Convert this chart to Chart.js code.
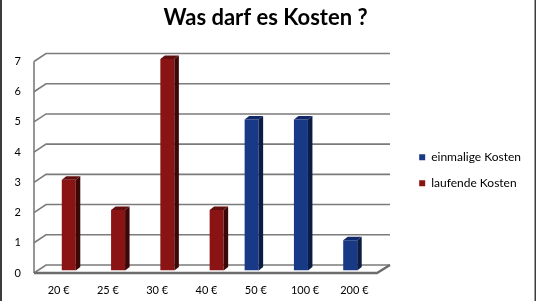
<!DOCTYPE html>
<html><head><meta charset="utf-8">
<script src="https://cdn.jsdelivr.net/npm/chart.js@4/dist/chart.umd.min.js"></script>
<style>html,body{margin:0;padding:0;background:#fff}canvas{display:block}</style>
</head><body>
<canvas id="c" width="536" height="301"></canvas>
<script>
const categories = ['20 €', '25 €', '30 €', '40 €', '50 €', '100 €', '200 €'];
const einmaligeKosten = [0, 0, 0, 0, 5, 5, 1];
const laufendeKosten = [3, 2, 7, 2, 0, 0, 0];
const seriesNames = ['einmalige Kosten', 'laufende Kosten'];
const yMin = 0, yMax = 7, yStep = 1;
const titleText = 'Was darf es Kosten ?';

const FONT = 'Lato, "Liberation Sans", sans-serif';
const LEGEND_FONT_SIZE = 12;
const blueFaces = {front: '#183a86', side: '#0c1d45', top: '#11296a'};
const redFaces = {front: '#8a1414', side: '#3c0707', top: '#620e0e'};

// oblique 3D look
const wall = {frontX: -3, backX: 9, frontY: 2.5, backY: -5.5, rightFrontX: -5, rightBackX: 8};
const barDepth = {dx: 4.5, dy: 3.5};
const TARGET_RIGHT = 382;
const PAD_RIGHT = 5;
const LEGEND_PAD = 14;

const frame3d = {
  id: 'frame3d',
  beforeDraw(chart) {
    const ctx = chart.ctx;
    ctx.save();
    ctx.fillStyle = '#3c3c3c';
    ctx.fillRect(0, 0, 2, chart.height);
    ctx.fillRect(chart.width - 1.5, 0, 1.5, chart.height);
    ctx.restore();
  },
  beforeDatasetsDraw(chart) {
    const {ctx, chartArea: a, scales: {y}} = chart;
    const fl = a.left + wall.frontX, bl = a.left + wall.backX;
    const fr = a.right + wall.rightFrontX, br = a.right + wall.rightBackX;
    ctx.save();
    ctx.strokeStyle = '#7b7b7b';
    ctx.lineWidth = 1.6;
    y.ticks.forEach(t => {
      const p = y.getPixelForValue(t.value);
      ctx.beginPath();
      ctx.moveTo(fl, p + wall.frontY);
      ctx.lineTo(bl, p + wall.backY);
      ctx.lineTo(br, p + wall.backY);
      ctx.stroke();
    });
    const pTop = y.getPixelForValue(yMax), p0 = y.getPixelForValue(yMin);
    ctx.beginPath();
    ctx.moveTo(fl, pTop + wall.frontY);
    ctx.lineTo(fl, p0 + wall.frontY);
    ctx.stroke();
    ctx.strokeStyle = '#6c6c6c';
    ctx.lineWidth = 2.4;
    ctx.beginPath();
    ctx.moveTo(fl, p0 + wall.frontY);
    ctx.lineTo(fr, p0 + wall.frontY);
    ctx.lineTo(br, p0 + wall.backY);
    ctx.stroke();
    ctx.restore();
  },
  afterDatasetsDraw(chart) {
    const ctx = chart.ctx;
    ctx.save();
    chart.data.datasets.forEach((ds, i) => {
      const meta = chart.getDatasetMeta(i);
      const c = ds.faces;
      meta.data.forEach(el => {
        const {x, y, base, width} = el.getProps(['x', 'y', 'base', 'width'], true);
        if (Math.abs(base - y) < 0.5) return;
        const l = x - width / 2, r = x + width / 2;
        const dx = barDepth.dx, dy = barDepth.dy;
        ctx.fillStyle = c.side;
        ctx.beginPath();
        ctx.moveTo(r, y); ctx.lineTo(r + dx, y - dy); ctx.lineTo(r + dx, base - dy); ctx.lineTo(r, base);
        ctx.closePath(); ctx.fill();
        ctx.fillStyle = c.top;
        ctx.beginPath();
        ctx.moveTo(l, y); ctx.lineTo(l + dx, y - dy); ctx.lineTo(r + dx, y - dy); ctx.lineTo(r, y);
        ctx.closePath(); ctx.fill();
      });
    });
    ctx.restore();
  }
};

new Chart(document.getElementById('c'), {
  type: 'bar',
  data: {
    labels: categories,
    datasets: [
      {label: seriesNames[0], data: einmaligeKosten, backgroundColor: blueFaces.front, borderColor: blueFaces.front, borderWidth: 0, faces: blueFaces},
      {label: seriesNames[1], data: laufendeKosten, backgroundColor: redFaces.front, borderColor: redFaces.front, borderWidth: 0, faces: redFaces}
    ]
  },
  options: {
    responsive: false,
    animation: false,
    devicePixelRatio: 1,
    categoryPercentage: 0.58,
    barPercentage: 0.98,
    layout: {padding: {left: 0, right: PAD_RIGHT, top: 0, bottom: 0}},
    plugins: {
      title: {
        display: true, text: titleText, color: '#000',
        font: {family: FONT, size: 22, weight: 'bold'},
        padding: {top: 5, bottom: 27.6}
      },
      legend: {
        position: 'right',
        align: 'start',
        maxWidth: 300,
        title: {display: true, text: ' ', font: {size: 11}, padding: {top: 124, bottom: 0}},
        labels: {
          boxWidth: 6, boxHeight: 6, padding: LEGEND_PAD, color: '#000',
          font: {family: FONT, size: LEGEND_FONT_SIZE}
        }
      },
      tooltip: {enabled: false}
    },
    scales: {
      x: {
        grid: {display: false, drawTicks: false},
        border: {display: false},
        ticks: {color: '#000', font: {family: FONT, size: 11}, padding: 13, labelOffset: -3, maxRotation: 0, autoSkip: false},
        afterFit(s) { s.height = 30.5; }
      },
      y: {
        min: yMin, max: yMax,
        grid: {display: false, drawTicks: false},
        border: {display: false},
        ticks: {stepSize: yStep, color: '#000', font: {family: FONT, size: 11}, padding: 16, labelOffset: 2.5},
        afterFit(s) { s.width = 37; }
      },
      spacer: {
        type: 'linear', position: 'right', display: true,
        grid: {display: false, drawTicks: false},
        border: {display: false},
        ticks: {display: false},
        afterFit(s) {
          const ctx = s.ctx;
          ctx.save();
          ctx.font = LEGEND_FONT_SIZE + 'px ' + FONT;
          const w = Math.max(...seriesNames.map(n => ctx.measureText(n).width));
          ctx.restore();
          const legendW = LEGEND_PAD + 6 + LEGEND_FONT_SIZE / 2 + w + 10;
          s.width = Math.max(0, s.chart.width - PAD_RIGHT - legendW - TARGET_RIGHT);
        }
      }
    }
  },
  plugins: [frame3d]
});
</script>
</body></html>
